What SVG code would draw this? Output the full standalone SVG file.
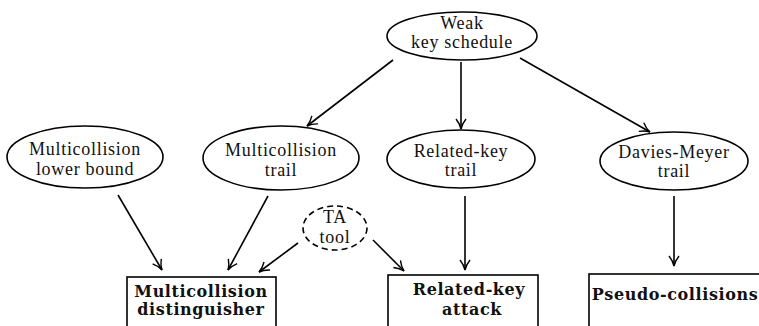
<svg xmlns="http://www.w3.org/2000/svg" width="759" height="326" viewBox="0 0 759 326">
<defs>
<style>
.n{fill:#fff;stroke:#000;stroke-width:1.6}
.d{fill:#fff;stroke:#000;stroke-width:1.6;stroke-dasharray:6,4}
.t{font-family:"Liberation Serif","DejaVu Serif",serif;font-size:18px;letter-spacing:0.7px;fill:#111;text-anchor:middle}
.b{font-family:"DejaVu Serif","Liberation Serif",serif;font-weight:bold;font-size:16px;letter-spacing:0.6px;fill:#111;text-anchor:middle}
.e{fill:none;stroke:#000;stroke-width:1.6;marker-end:url(#ah)}
</style>
<marker id="ah" viewBox="0 0 12 12" refX="11" refY="6" markerWidth="12" markerHeight="12" markerUnits="userSpaceOnUse" orient="auto">
<path d="M1,1 Q6,5 11,6 Q6,7 1,11" fill="none" stroke="#000" stroke-width="1.4"/>
</marker>
</defs>
<rect width="759" height="326" fill="#fff"/>
<g id="connectors">
<line class="e" x1="393" y1="60" x2="307" y2="126"/>
<line class="e" x1="461" y1="62" x2="461" y2="129"/>
<line class="e" x1="520" y1="58" x2="650" y2="132"/>
<line class="e" x1="118" y1="195" x2="162" y2="270"/>
<line class="e" x1="268" y1="196" x2="228" y2="270"/>
<line class="e" x1="298" y1="243" x2="259" y2="272"/>
<line class="e" x1="373" y1="240" x2="404" y2="271"/>
<line class="e" x1="465" y1="196" x2="465" y2="270"/>
<line class="e" x1="674" y1="196" x2="674" y2="266"/>
</g>
<g id="weak">
<ellipse class="n" cx="462" cy="36" rx="75" ry="24"/>
<text class="t" x="462" y="29">Weak</text>
<text class="t" x="462" y="48">key schedule</text>
</g>
<g id="mlb">
<ellipse class="n" cx="85" cy="157" rx="78" ry="31"/>
<text class="t" x="85" y="155">Multicollision</text>
<text class="t" x="85" y="175">lower bound</text>
</g>
<g id="mtrail">
<ellipse class="n" cx="281" cy="158" rx="78" ry="32"/>
<text class="t" x="281" y="156">Multicollision</text>
<text class="t" x="281" y="176">trail</text>
</g>
<g id="rktrail">
<ellipse class="n" cx="461" cy="159" rx="74" ry="29"/>
<text class="t" x="461" y="157">Related-key</text>
<text class="t" x="461" y="176">trail</text>
</g>
<g id="dmtrail">
<ellipse class="n" cx="674" cy="161" rx="74" ry="29"/>
<text class="t" x="674" y="158">Davies-Meyer</text>
<text class="t" x="674" y="177">trail</text>
</g>
<g id="ta">
<ellipse class="d" cx="335" cy="228" rx="32" ry="22"/>
<text class="t" x="335" y="223">TA</text>
<text class="t" x="335" y="243">tool</text>
</g>
<g id="mdist">
<rect class="n" x="127" y="277" width="149" height="70"/>
<text class="b" x="201" y="297">Multicollision</text>
<text class="b" x="201" y="315">distinguisher</text>
</g>
<g id="rkattack">
<rect class="n" x="388" y="275" width="150" height="70"/>
<text class="b" x="469" y="295">Related-key</text>
<text class="b" x="472" y="315">attack</text>
</g>
<g id="pseudo">
<rect class="n" x="589" y="274" width="180" height="70"/>
<text class="b" x="675" y="300">Pseudo-collisions</text>
</g>
</svg>
